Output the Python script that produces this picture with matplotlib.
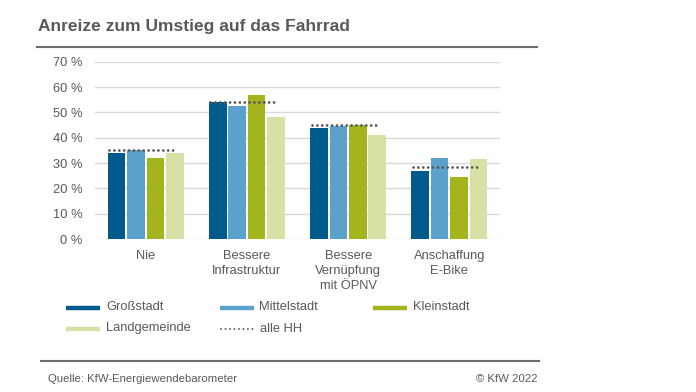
import matplotlib.pyplot as plt
from matplotlib.lines import Line2D
import numpy as np

plt.rcParams['font.family'] = ['Liberation Sans', 'DejaVu Sans']

# data
categories = ['Nie', 'Bessere\nInfrastruktur', 'Bessere\nVernüpfung\nmit ÖPNV', 'Anschaffung\nE-Bike']
grossstadt = [34, 54, 44, 27]
mittelstadt = [35, 52.5, 44.5, 32]
kleinstadt = [32, 57, 45, 24.5]
landgemeinde = [34, 48, 41, 31.5]
alle_hh = [35, 54, 45, 28.5]

series = ['Großstadt', 'Mittelstadt', 'Kleinstadt', 'Landgemeinde', 'alle HH']
colors = ['#005a8c', '#5aa2cc', '#a4b41c', '#d9e0a6']
values = [grossstadt, mittelstadt, kleinstadt, landgemeinde]

text_col = '#595959'
dot_col = '#555555'
W, H = 696, 392

fig = plt.figure(figsize=(6.96, 3.92), dpi=100)
ax = fig.add_axes([95 / W, 1 - 239 / H, 405 / W, 177.3 / H])

x = np.arange(len(categories))
step = 0.192
width = 0.174
for i, (vals, c) in enumerate(zip(values, colors)):
    ax.bar(x + (i - 1.5) * step, vals, width, color=c, zorder=2)

# alle HH as short dotted line over each group
for xc, v in zip(x, alle_hh):
    ax.plot([xc - 0.36, xc + 0.29], [v, v], color=dot_col, linewidth=2.0,
            linestyle=(0, (0.01, 1.75)), dash_capstyle='round', zorder=3)

ax.set_xlim(-0.5, 3.5)
ax.set_ylim(0, 70)
ax.set_yticks(range(0, 71, 10))
ax.set_yticklabels(['{} %'.format(v) for v in range(0, 71, 10)])
ax.set_xticks(x)
ax.set_xticklabels(categories, linespacing=1.3)
ax.tick_params(length=0, colors=text_col, labelsize=9.3)
ax.tick_params(axis='y', pad=9)
ax.tick_params(axis='x', pad=8)
ax.yaxis.grid(True, color='#d9d9d9', linewidth=1.0, zorder=0)
ax.set_axisbelow(True)
for s in ax.spines.values():
    s.set_visible(False)

# title and rules
fig.text(38.5 / W, 1 - 31 / H, 'Anreize zum Umstieg auf das Fahrrad', fontsize=12.5,
         fontweight='bold', color=text_col, va='baseline', ha='left')
fig.add_artist(Line2D([37 / W, 537 / W], [1 - 47.3 / H] * 2, color='#6d6d6d', linewidth=1.5))
fig.add_artist(Line2D([41 / W, 539 / W], [1 - 361 / H] * 2, color='#6d6d6d', linewidth=1.5))

# legend, laid out on a fixed grid (row-major)
col_w = 153.5
for k, name in enumerate(series):
    row, col = divmod(k, 3)
    x0 = 66 + col * col_w
    y0 = 307.5 + row * 21
    if k < len(colors):
        fig.add_artist(Line2D([x0 / W, (x0 + 34) / W], [1 - y0 / H] * 2, color=colors[k],
                              linewidth=3.2, solid_capstyle='butt'))
    else:
        fig.add_artist(Line2D([(x0 + 1) / W, (x0 + 33) / W], [1 - y0 / H] * 2, color=dot_col,
                              linewidth=1.4, linestyle=(0, (0.01, 2.3)), dash_capstyle='round'))
    fig.text((x0 + 40) / W, 1 - y0 / H, name, fontsize=9.3, color=text_col, va='center', ha='left')

fig.text(48 / W, 1 - 379 / H, 'Quelle: KfW-Energiewendebarometer', fontsize=8.2,
         color=text_col, va='center', ha='left')
fig.text(537 / W, 1 - 379 / H, '© KfW 2022', fontsize=8.2, color=text_col, va='center', ha='right')

fig.savefig('out.png', dpi=100, facecolor='white')
